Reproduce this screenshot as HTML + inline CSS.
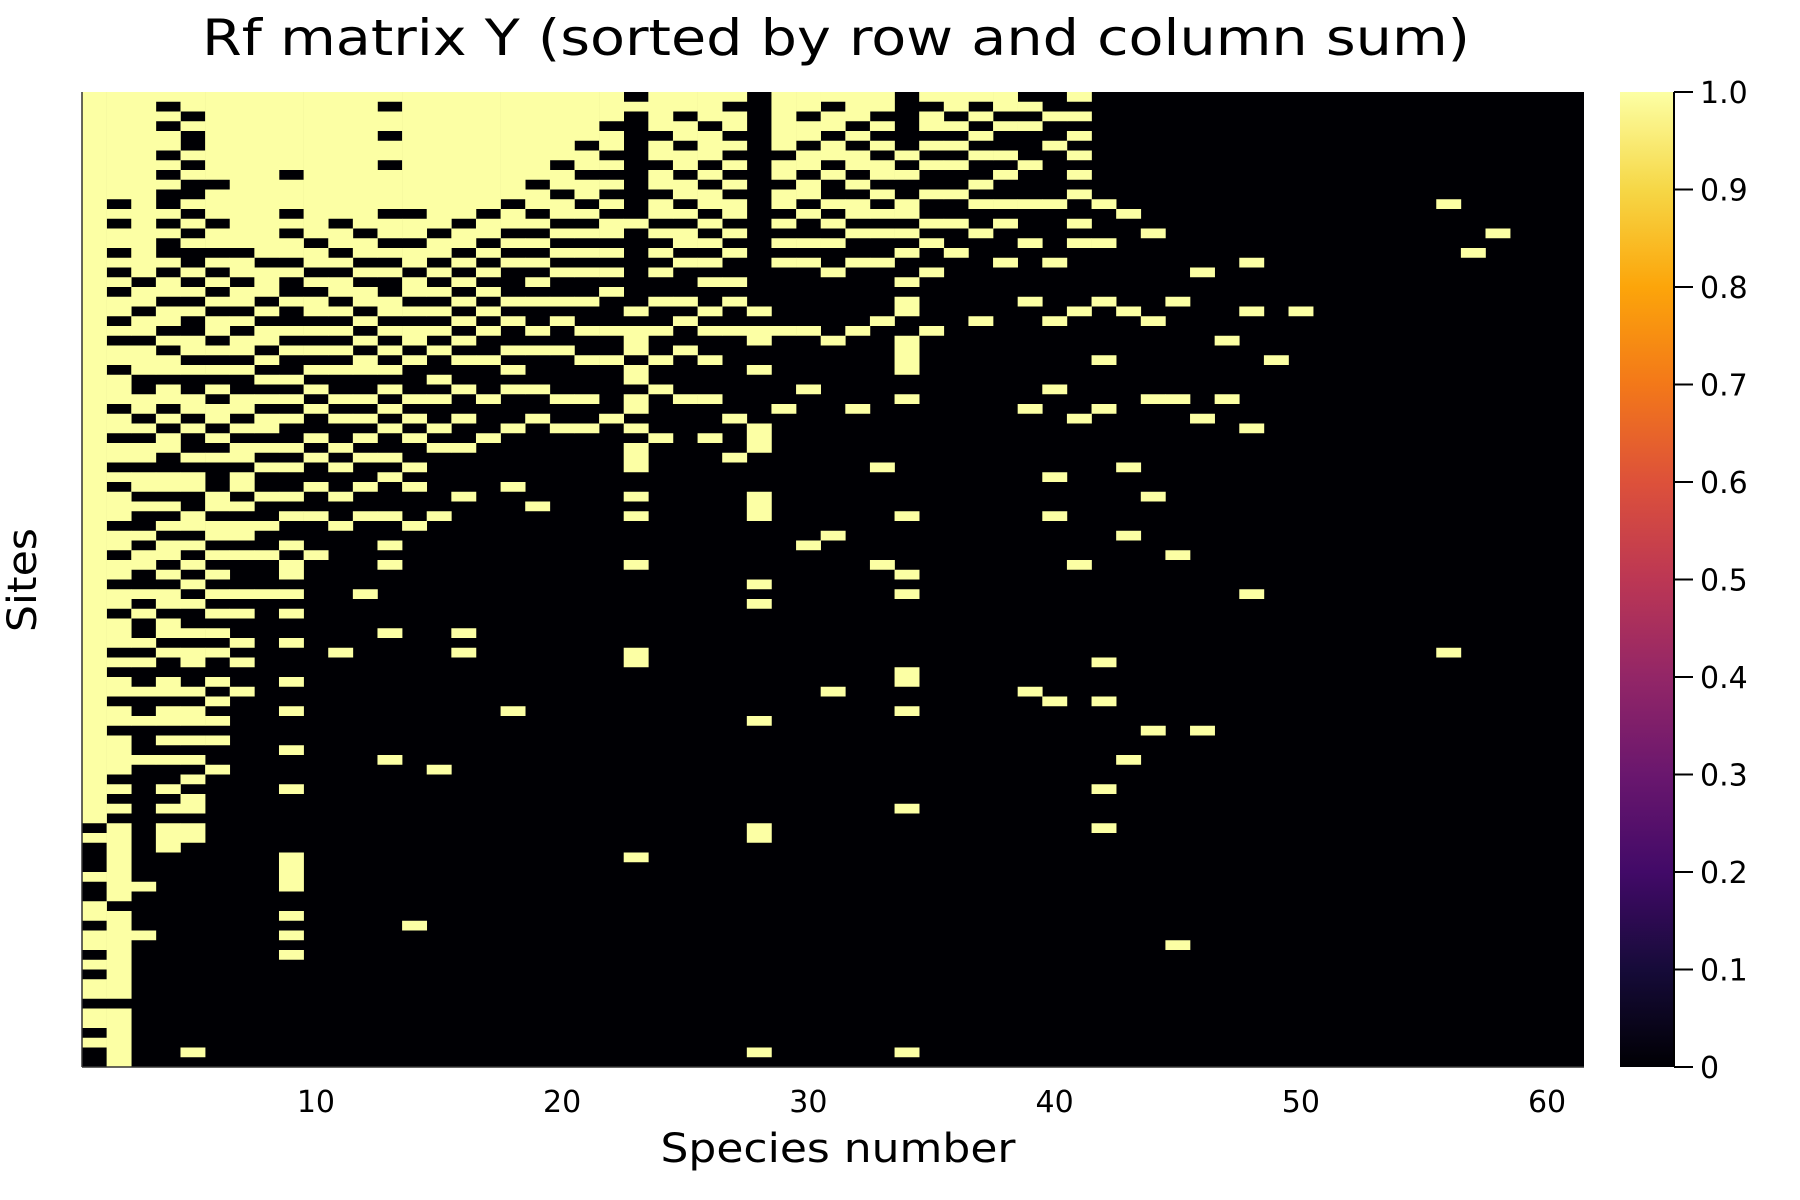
<!DOCTYPE html>
<html><head><meta charset="utf-8">
<style>
html,body{margin:0;padding:0;background:#fff;}
svg{display:block;}
text{font-family:"DejaVu Sans","Liberation Sans",sans-serif;fill:#000;}
</style></head>
<body>
<svg id="chart" width="1800" height="1200" viewBox="0 0 1800 1200" xmlns="http://www.w3.org/2000/svg">
  <defs>
    <linearGradient id="inferno" x1="0" y1="1" x2="0" y2="0">
      <stop offset="0" stop-color="#000004"/><stop offset="0.1" stop-color="#160b39"/>
      <stop offset="0.2" stop-color="#420a68"/><stop offset="0.3" stop-color="#6a176e"/>
      <stop offset="0.4" stop-color="#932667"/><stop offset="0.5" stop-color="#bc3754"/>
      <stop offset="0.6" stop-color="#dd513a"/><stop offset="0.7" stop-color="#f37819"/>
      <stop offset="0.8" stop-color="#fca50a"/><stop offset="0.9" stop-color="#f6d746"/>
      <stop offset="1" stop-color="#fcffa4"/>
    </linearGradient>
  </defs>
  <text x="836" y="55" font-size="50" text-anchor="middle" textLength="1268" lengthAdjust="spacingAndGlyphs">Rf matrix Y (sorted by row and column sum)</text>
  <rect x="82" y="92" width="1502" height="975" fill="#000004"/>
  <g id="cells"></g>
  <line x1="82" y1="92" x2="82" y2="1067" stroke="#333" stroke-width="1.5"/>
  <line x1="82" y1="1067" x2="1584" y2="1067" stroke="#333" stroke-width="1.5"/>
  <g id="xticks"></g>
  <text x="838" y="1162" font-size="40" text-anchor="middle" textLength="355" lengthAdjust="spacingAndGlyphs">Species number</text>
  <text transform="translate(36,580) rotate(-90)" font-size="40" text-anchor="middle" textLength="104" lengthAdjust="spacingAndGlyphs">Sites</text>
  <rect x="1620" y="92" width="54" height="975" fill="url(#inferno)"/>
  <line x1="1674" y1="92" x2="1674" y2="1067" stroke="#000" stroke-width="2"/>
  <g id="cticks"></g>
</svg>
<script>
const nRows = 100;
const speciesCount = 61;
const xTickValues = [10, 20, 30, 40, 50, 60];
const colorbarTickValues = [0, 0.1, 0.2, 0.3, 0.4, 0.5, 0.6, 0.7, 0.8, 0.9, 1.0];
const colorbarTickLabels = ["0","0.1","0.2","0.3","0.4","0.5","0.6","0.7","0.8","0.9","1.0"];
// per-species presence over 100 site bins (1 = present)
const presence = [
"1111111111111111111111111111111111111111111111111111111111111111111111111110100010011011010110110100",
"1111111111101011010101101011011101101101011101101101101110101101101111010101111111101111111110111111",
"1111111111111111111011011011100110101101101001011001010010100100100010000000000001000010000000000000",
"1010110101001010010110110101101101011001101010110101101101001101101010010101110000000000000000000000",
"1101001010010101001010100110100110100101100110101010100101100101101010101101100000000000000000000010",
"1111111110111011010101011010101011010100011011010101010101001010101001000000000000000000000000000000",
"1111111111111111011011010110100110101101101011010001010010100100000000000000000000000000000000000000",
"1111111111111111101110101101010101101010010010010001000000000000000000000000000000000000000000000000",
"1111111101110101101001001010010101001010010100101101010010001001000100010000001111001010100000000000",
"1111111111111110110101101010101010010100100100010000000000000000000000000000000000000000000000000000",
"1111111111111011010110101010100101001010010010000000000001000000000000000000000000000000000000000000",
"1111111111111101101011010101100101010100100100000001000000000000000000000000000000000000000000000000",
"1011011011110110101001101010101010100101000100101000000100000000000010000000000000000000000000000000",
"1111111111110110110110101101000101010010100010000000000000000000000000000000000000000100000000000000",
"1111111111111101101010101010010100101000000100000000000000000000000001000000000000000000000000000000",
"1111111111111011010101010101001001001000010000000000000101000000000000000000000000000000000000000000",
"1111111111110110101010101001000100010000000000000000000000000000000000000000000000000000000000000000",
"1111111111101101010001010010101000100000100000000000000000000001000000000000000000000000000000000000",
"1111111110110101010101001010001001000000001000000000000000000000000000000000000000000000000000000000",
"1111111011011010101001010010000100100000000000000000000000000000000000000000000000000000000000000000",
"1111101101101010101001001001000100100000000000000000000000000000000000000000000000000000000000000000",
"1110110101010110101010001001000001000000000000000000000000000000000000000000000000000000000000000000",
"0100000000000100000000101110110110101110010100001000000001100000000000000000001000000000000000000000",
"1111011011011010101001001001001000010000000000000000000000000000000000000000000000000000000000000000",
"1101101101101011010001010010000100000000000000000000000000000000000000000000000000000000000000000000",
"1110111010110101010100101001000100010000000000000000000000000000000000000000000000000000000000000000",
"1011010101011010100101001000000001000100000000000000000000000000000000000000000000000000000000000000",
"0000000000000000000000101100100000111000011100000010100000000000100000000001100000000000000000000010",
"1111110110110101010000001000000010000000000000000000000000000000000000000000000000000000000000000000",
"1101101101101001010000001000001000000000000000100000000000000000000000000000000000000000000000000000",
"1011011010010101001000000100000000000000000001000000000000000100000000000000000000000000000000000000",
"1110101101011010010000001000000010000000000000000000000000000000000000000000000000000000000000000000",
"1101010110101010010000010000000000000010000000001000000000000000000000000000000000000000000000000000",
"0000001010011010100101100111100100000000000100000101000000011001000000000100000000000000000000000010",
"1011010100100101001000001000000000000000000000000000000000000000000000000000000000000000000000000000",
"1101010100100100100000000000000000000000000000000000000000000000000000000000000000000000000000000000",
"1010101001010010000000010000000000000000000000000000000000000000000000000000000000000000000000000000",
"1101001010010100010000000000000000000000000000000000000000000000000000000000000000000000000000000000",
"0101000100010001000001000000000010000000000000000000000000000100000000000000000000000000000000000000",
"0010010000010000010000010000001000000001000100000000000000000010000000000000000000000000000000000000",
"1010101010100101000000100000000001000000000000001000000000000000000000000000000000000000000000000000",
"0000000000010001000001000001000010000000000000000000000000100010000000010001000000000000000000000000",
"0000000000001000000000100000000000000010000001000000000000000000000010000000000000000000000000000000",
"0000000000000010000000010000000100000000010000000000000000000000010000000000000000000000000000000000",
"0000000000000000000001000000000100000000000000010000000000000000000000000000000000000001000000000000",
"0000000000000000001000000000000001000000000000000000000000000000010000000000000000000000000000000000",
"0000000000000000000000000100000100000000000000000000000000000000000000000000000000000000000000000000",
"0000000000000000010000100000000000100000000000000001000000000000000000000000000000000000000000000000",
"0000000000000000000000000001000000000000000000000000000000000000000000000000000000000000000000000000",
"0000000000000000000000100000000000000000000000000000000000000000000000000000000000000000000000000000",
"", "", "", "", "",
"0000000000010000000000000000000000000000000000000000000001000000000000000000000000000000000000000000",
"0000000000000000100000000000000000000000000000000000000000000000000000000000000000000000000000000000",
"0000000000000010000000000000000000000000000000000000000000000000000000000000000000000000000000000000",
"", "", "", ""
];

const NS = "http://www.w3.org/2000/svg";
const plotX0 = 82, plotX1 = 1584, plotY0 = 92, plotY1 = 1067;
function xScale(v){ return plotX0 + (v - 0.5) / speciesCount * (plotX1 - plotX0); }
function yScale(r){ return plotY0 + r / nRows * (plotY1 - plotY0); }
function cScale(v){ return plotY1 - v * (plotY1 - plotY0); }

const cells = document.getElementById('cells');
for (let c = 0; c < speciesCount; c++) {
  const s = (presence[c] || "").padEnd(nRows, "0").slice(0, nRows);
  const x0 = xScale(c + 0.5), x1 = xScale(c + 1.5);
  let r = 0;
  while (r < nRows) {
    if (s[r] === '1') {
      let e = r;
      while (e < nRows && s[e] === '1') e++;
      const rect = document.createElementNS(NS, 'rect');
      
      
      rect.setAttribute('x', x0);
      rect.setAttribute('width', x1 - x0 + 0.3);
      rect.setAttribute('y', yScale(r));
      rect.setAttribute('height', yScale(e) - yScale(r));
      rect.setAttribute('fill', '#fcffa4');
      cells.appendChild(rect);
      r = e;
    } else r++;
  }
}

const xt = document.getElementById('xticks');
xTickValues.forEach(v => {
  const t = document.createElementNS(NS, 'text');
  
  
  t.setAttribute('x', xScale(v));
  t.setAttribute('y', 1112);
  t.setAttribute('font-size', '30');
  t.setAttribute('text-anchor', 'middle');
  t.textContent = String(v);
  xt.appendChild(t);
});

const ct = document.getElementById('cticks');
colorbarTickValues.forEach((v, i) => {
  const y = cScale(v);
  const l = document.createElementNS(NS, 'line');
  
  
  l.setAttribute('x1', 1674); l.setAttribute('x2', 1693);
  l.setAttribute('y1', y); l.setAttribute('y2', y);
  l.setAttribute('stroke', '#000'); l.setAttribute('stroke-width', '2');
  ct.appendChild(l);
  const t = document.createElementNS(NS, 'text');
  
  
  t.setAttribute('x', 1700);
  t.setAttribute('y', y + 11);
  t.setAttribute('font-size', '30');
  t.textContent = colorbarTickLabels[i];
  ct.appendChild(t);
});
</script>
</body></html>
